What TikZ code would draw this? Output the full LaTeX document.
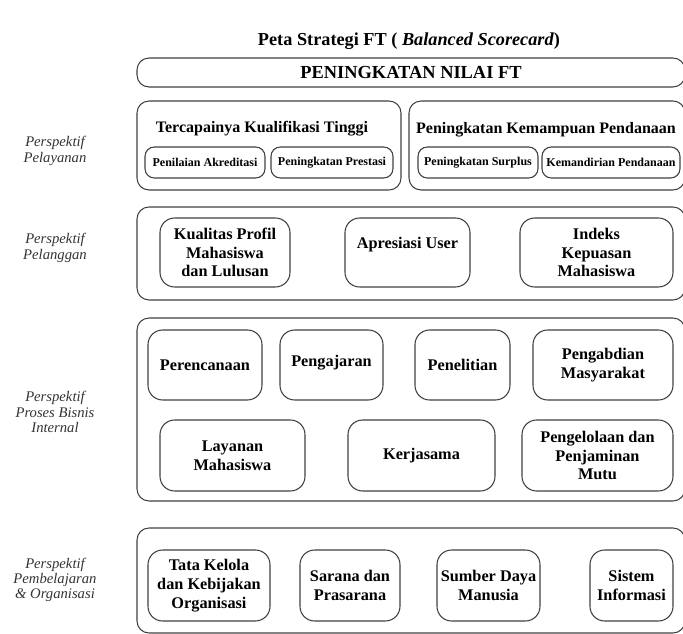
\documentclass[tikz,border=0pt]{standalone}
\usepackage{fontspec}
\setmainfont{Liberation Serif}
\usepackage{tikz}
\usetikzlibrary{positioning}

\begin{document}
\begin{tikzpicture}[
    x=0.75pt, y=-0.75pt,
    sz/.style 2 args={minimum width=#1*0.75pt, minimum height=#2*0.75pt},
    frame/.style={draw=black!75, line width=0.8pt, rounded corners=9pt, inner sep=0pt},
    item/.style={frame, rounded corners=11pt, align=center, font=\fontsize{12.2}{14}\selectfont\bfseries},
    sub/.style={frame, rounded corners=7pt, align=center, font=\fontsize{9}{11}\selectfont\bfseries},
    head/.style={font=\fontsize{12}{14}\selectfont\bfseries},
    persp/.style={align=center, font=\fontsize{11}{11.5}\selectfont\itshape, text=black!80},
]
\useasboundingbox (0,0) rectangle (683,634);
\clip (0,0) rectangle (683,634);

\node[font=\fontsize{13.7}{16}\selectfont\bfseries] (title) at (409,41) {Peta Strategi FT ( \textit{Balanced Scorecard})};

% nilai
\node[frame, sz={548}{29}, font=\fontsize{13.8}{16}\selectfont\bfseries] (nilai) at (411,72.5) {PENINGKATAN NILAI FT};

% pelayanan
\node[frame, sz={264}{89}] (kual) at (269,145.5) {};
\node[frame, sz={276}{89}] (dana) at (547,145.5) {};
\node[head] (kualT) at (262,129) {Tercapainya Kualifikasi Tinggi};
\node[head] (danaT) at (546,130) {Peningkatan Kemampuan Pendanaan};
\node[sub, sz={120}{31}] (akred) at (205,162.5) {Penilaian Akreditasi};
\node[sub, sz={122}{31}] (pres) at (332,162.5) {Peningkatan Prestasi};
\node[sub, sz={120}{31}] (surp) at (478,162.5) {Peningkatan Surplus};
\node[sub, sz={138}{31}] (mand) at (611,162.5) {Kemandirian Pendanaan};
\node[persp] (pLay) at (55,151) {Perspektif\\Pelayanan};

% pelanggan
\node[frame, sz={548}{93}] (plg) at (411,253.5) {};
\node[item, sz={130}{69}] (profil) at (225,252.5) {Kualitas Profil\\Mahasiswa\\dan Lulusan};
\node[item, sz={125}{69}, text depth=14pt] (apres) at (407.5,252.5) {Apresiasi User};
\node[item, sz={153}{69}] (indeks) at (596.5,252.5) {Indeks\\Kepuasan\\Mahasiswa};
\node[persp] (pPlg) at (55,248) {Perspektif\\Pelanggan};

% proses bisnis internal
\node[frame, sz={548}{183}] (pbi) at (411,409.5) {};
\node[item, sz={114}{70}] (renc) at (205,365) {Perencanaan};
\node[item, sz={103}{70}, text depth=6pt] (ajar) at (331.5,365) {Pengajaran};
\node[item, sz={95}{70}] (teliti) at (462.5,365) {Penelitian};
\node[item, sz={140}{70}] (abdi) at (603,365) {Pengabdian\\Masyarakat};
\node[item, sz={145}{71}] (layan) at (232.5,455.5) {Layanan\\Mahasiswa};
\node[item, sz={147}{71}] (kerja) at (421.5,455.5) {Kerjasama};
\node[item, sz={151}{71}] (mutu) at (597.5,455.5) {Pengelolaan dan\\Penjaminan\\Mutu};
\node[persp] (pPbi) at (55,412) {Perspektif\\Proses Bisnis\\Internal};

% pembelajaran & organisasi
\node[frame, sz={548}{105}] (org) at (411,580.5) {};
\node[item, sz={122}{71}] (tata) at (209,585.5) {Tata Kelola\\dan Kebijakan\\Organisasi};
\node[item, sz={100}{71}] (sarana) at (350,585.5) {Sarana dan\\Prasarana};
\node[item, sz={103}{71}] (sdm) at (488.5,585.5) {Sumber Daya\\Manusia};
\node[item, sz={83}{71}] (sisinf) at (631.5,585.5) {Sistem\\Informasi};
\node[persp] (pOrg) at (55,580) {Perspektif\\Pembelajaran\\\& Organisasi};
\end{tikzpicture}
\end{document}
